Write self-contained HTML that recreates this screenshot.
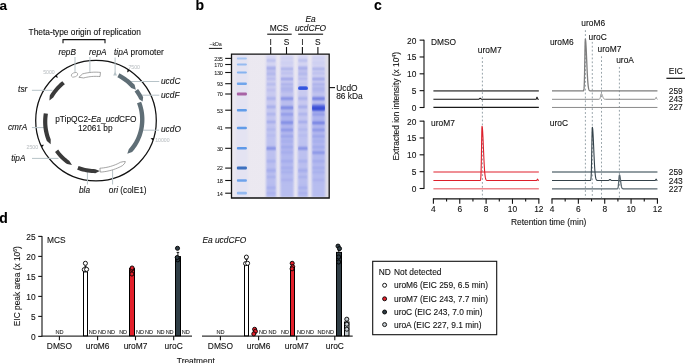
<!DOCTYPE html>
<html><head><meta charset="utf-8"><style>
html,body{margin:0;padding:0;background:#fff;}
body{width:685px;height:363px;overflow:hidden;}
svg{display:block;will-change:transform;font-family:"Liberation Sans",sans-serif;}
text{stroke:currentColor;stroke-width:0.1px;}
</style></head><body>
<svg width="685" height="363" viewBox="0 0 685 363" fill="#111" color="#111">
<text x="-0.50" y="9.60" font-size="13.5" font-weight="bold" fill="#000" color="#000">a</text>
<text x="195.60" y="9.60" font-size="14.0" font-weight="bold" fill="#000" color="#000">b</text>
<text x="374.00" y="9.70" font-size="14.0" font-weight="bold" fill="#000" color="#000">c</text>
<text x="-0.70" y="222.90" font-size="14.0" font-weight="bold" fill="#000" color="#000">d</text>
<circle cx="96" cy="120.6" r="60.3" fill="none" stroke="#111" stroke-width="1.25"/>
<line x1="75.00" y1="57.00" x2="75.00" y2="72.60" stroke="#b7c3c8" stroke-width="1"/>
<line x1="89.90" y1="57.00" x2="89.90" y2="72.80" stroke="#b7c3c8" stroke-width="1"/>
<line x1="115.10" y1="57.50" x2="115.10" y2="72.50" stroke="#b7c3c8" stroke-width="1"/>
<path d="M113.2,75.4 L117.0,75.4 L115.1,71.2Z" fill="#b7c3c8"/>
<line x1="130.50" y1="81.50" x2="159.30" y2="81.50" stroke="#b7c3c8" stroke-width="1"/>
<line x1="139.50" y1="95.20" x2="159.30" y2="95.20" stroke="#b7c3c8" stroke-width="1"/>
<line x1="143.30" y1="130.20" x2="159.10" y2="130.20" stroke="#b7c3c8" stroke-width="1"/>
<line x1="31.90" y1="90.30" x2="52.50" y2="90.30" stroke="#b7c3c8" stroke-width="1"/>
<line x1="31.90" y1="127.60" x2="44.00" y2="127.60" stroke="#b7c3c8" stroke-width="1"/>
<line x1="32.00" y1="158.40" x2="58.50" y2="158.40" stroke="#b7c3c8" stroke-width="1"/>
<line x1="87.40" y1="171.50" x2="87.40" y2="184.50" stroke="#b7c3c8" stroke-width="1"/>
<line x1="112.60" y1="170.00" x2="112.60" y2="184.50" stroke="#b7c3c8" stroke-width="1"/>
<path d="M62.35,81.13 L60.87,82.34 L59.43,83.61 L58.04,84.93 L56.69,86.30 L55.40,87.72 L54.16,89.19 L52.98,90.71 L51.85,92.27 L50.78,93.87 L49.77,95.51 L49.40,100.46 L53.26,97.47 L54.19,95.96 L55.18,94.48 L56.23,93.04 L57.32,91.65 L58.47,90.29 L59.66,88.98 L60.90,87.72 L62.19,86.50 L63.52,85.33 L64.89,84.22Z" fill="#3a3a3a" stroke="none" stroke-width="0" stroke-linejoin="round"/>
<path d="M43.78,113.24 L43.51,115.10 L43.31,116.97 L43.18,118.85 L43.11,120.74 L43.11,122.62 L43.18,124.51 L43.32,126.39 L43.53,128.27 L43.80,130.14 L44.14,131.99 L44.55,133.84 L45.03,135.67 L45.57,137.48 L46.18,139.28 L46.86,141.05 L50.65,144.34 L50.73,139.43 L50.12,137.81 L49.56,136.16 L49.06,134.49 L48.62,132.81 L48.25,131.11 L47.94,129.40 L47.69,127.68 L47.50,125.96 L47.37,124.22 L47.31,122.49 L47.31,120.76 L47.37,119.03 L47.50,117.30 L47.69,115.58 L47.94,113.87Z" fill="#3a3a3a" stroke="none" stroke-width="0" stroke-linejoin="round"/>
<path d="M55.04,152.07 L56.16,153.59 L57.35,155.07 L58.58,156.51 L59.88,157.90 L61.22,159.25 L62.62,160.54 L64.07,161.79 L65.56,162.98 L67.10,164.12 L71.97,164.88 L69.28,160.76 L67.86,159.71 L66.49,158.60 L65.16,157.45 L63.88,156.25 L62.64,155.01 L61.45,153.72 L60.31,152.39 L59.23,151.03 L58.20,149.62Z" fill="#3a3a3a" stroke="none" stroke-width="0" stroke-linejoin="round"/>
<path d="M77.18,169.71 L78.92,170.34 L80.69,170.91 L82.47,171.41 L84.28,171.86 L86.10,172.23 L87.93,172.55 L89.77,172.79 L91.62,172.98 L93.48,173.09 L95.34,173.14 L99.82,170.98 L95.32,169.14 L93.60,169.09 L91.89,168.98 L90.18,168.82 L88.48,168.59 L86.79,168.30 L85.11,167.94 L83.45,167.53 L81.80,167.07 L80.17,166.54 L78.56,165.95Z" fill="#3a3a3a" stroke="none" stroke-width="0" stroke-linejoin="round"/>
<path d="M100.29,172.09 L102.21,171.94 L104.14,171.72 L106.05,171.43 L107.95,171.06 L109.85,170.62 L111.73,170.11 L113.59,169.53 L115.43,168.88 L117.25,168.16 L119.04,167.37 L120.80,166.51 L122.54,165.59 L124.81,163.16 L125.34,161.57 L123.69,161.57 L120.49,162.27 L118.88,163.12 L117.25,163.91 L115.59,164.63 L113.90,165.29 L112.20,165.89 L110.48,166.42 L108.74,166.88 L106.98,167.28 L105.22,167.61 L103.45,167.88 L101.67,168.08 L99.90,168.21Z" fill="#fff" stroke="#7e7e7e" stroke-width="0.7" stroke-linejoin="round"/>
<path d="M119.41,73.29 L121.11,74.19 L122.77,75.15 L124.40,76.18 L125.99,77.26 L127.54,78.40 L129.05,79.59 L130.51,80.83 L131.93,82.13 L133.31,83.48 L134.63,84.87 L135.85,89.84 L131.31,87.91 L130.09,86.63 L128.84,85.40 L127.54,84.21 L126.20,83.07 L124.81,81.98 L123.39,80.93 L121.94,79.94 L120.45,79.01 L118.92,78.12 L117.37,77.30Z" fill="#5f6e76" stroke="none" stroke-width="0" stroke-linejoin="round"/>
<path d="M138.08,88.97 L139.21,90.55 L140.29,92.17 L141.30,93.83 L142.26,95.52 L143.15,97.25 L142.62,101.41 L139.21,99.20 L138.39,97.61 L137.51,96.06 L136.58,94.54 L135.59,93.05 L134.55,91.60Z" fill="#5f6e76" stroke="none" stroke-width="0" stroke-linejoin="round"/>
<path d="M141.10,101.66 L141.71,103.32 L142.26,104.99 L142.74,106.68 L143.17,108.39 L143.54,110.11 L143.84,111.84 L144.09,113.57 L144.27,115.32 L144.39,117.06 L144.45,118.81 L144.44,120.55 L144.38,122.30 L144.25,124.04 L144.06,125.77 L143.81,127.49 L143.51,129.20 L143.14,130.89 L142.71,132.57 L142.22,134.23 L141.68,135.88 L141.07,137.50 L140.41,139.09 L139.70,140.66 L138.93,142.20 L138.11,143.72 L137.24,145.20 L136.31,146.65 L135.34,148.06 L134.32,149.43 L133.25,150.77 L132.13,152.07 L127.28,153.87 L128.76,149.24 L129.78,148.06 L130.75,146.85 L131.69,145.60 L132.58,144.32 L133.42,143.01 L134.22,141.66 L134.97,140.29 L135.67,138.89 L136.33,137.46 L136.93,136.01 L137.48,134.54 L137.98,133.04 L138.43,131.53 L138.83,130.00 L139.17,128.46 L139.45,126.91 L139.68,125.34 L139.86,123.76 L139.98,122.18 L140.04,120.59 L140.05,119.00 L140.00,117.41 L139.90,115.82 L139.74,114.23 L139.52,112.65 L139.25,111.07 L138.92,109.51 L138.53,107.95 L138.09,106.41 L137.59,104.88 L137.04,103.37Z" fill="#5f6e76" stroke="none" stroke-width="0" stroke-linejoin="round"/>
<path d="M100.47,72.40 L98.67,72.25 L96.86,72.16 L95.06,72.15 L93.25,72.20 L91.45,72.32 L89.66,72.50 L87.87,72.75 L86.10,73.06 L84.34,73.45 L82.59,73.89 L78.86,77.32 L83.67,77.95 L85.27,77.54 L86.87,77.19 L88.50,76.90 L90.13,76.67 L91.77,76.50 L93.41,76.40 L95.06,76.35 L96.71,76.36 L98.36,76.43 L100.01,76.57Z" fill="#fff" stroke="#7e7e7e" stroke-width="0.7" stroke-linejoin="round"/>
<ellipse cx="74.5" cy="74.8" rx="3.4" ry="2.1" transform="rotate(-22 74.5 74.8)" fill="#fff" stroke="#8a8a8a" stroke-width="0.6"/>
<path d="M129.84,70.68 L127.12,72.49 L127.66,69.26Z" fill="#111"/>
<path d="M152.95,140.47 L150.50,138.31 L153.75,138.00Z" fill="#111"/>
<path d="M40.80,144.91 L44.07,144.82 L41.90,147.26Z" fill="#111"/>
<path d="M56.78,74.78 L57.81,77.88 L54.84,76.51Z" fill="#111"/>
<text x="43.20" y="74.20" font-size="5.2" fill="#c3c7ca" color="#c3c7ca">5000</text>
<text x="128.40" y="69.30" font-size="5.2" fill="#c3c7ca" color="#c3c7ca">7500</text>
<text x="155.20" y="141.70" font-size="5.2" fill="#c3c7ca" color="#c3c7ca">10000</text>
<text x="26.50" y="148.80" font-size="5.2" fill="#c3c7ca" color="#c3c7ca">2500</text>
<text x="28.60" y="34.70" font-size="8.35">Theta-type origin of replication</text>
<path d="M63,43.2 L63,39.6 L105,39.6 L105,43.2" fill="none" stroke="#111" stroke-width="1.1"/>
<text x="58.40" y="55.10" font-size="8.3" font-style="italic">repB</text>
<text x="89.00" y="55.10" font-size="8.3" font-style="italic">repA</text>
<text x="114.00" y="54.60" font-size="8.3"><tspan font-style="italic">tipA</tspan> promoter</text>
<text x="161.00" y="84.00" font-size="8.3" font-style="italic">ucdC</text>
<text x="161.00" y="97.50" font-size="8.3" font-style="italic">ucdF</text>
<text x="161.00" y="132.30" font-size="8.3" font-style="italic">ucdO</text>
<text x="27.30" y="91.70" font-size="8.3" text-anchor="end" font-style="italic">tsr</text>
<text x="27.30" y="130.00" font-size="8.3" text-anchor="end" font-style="italic">cmrA</text>
<text x="25.50" y="160.90" font-size="8.3" text-anchor="end" font-style="italic">tipA</text>
<text x="79.00" y="192.90" font-size="8.3" font-style="italic">bla</text>
<text x="108.80" y="192.90" font-size="8.3"><tspan font-style="italic">ori</tspan> (colE1)</text>
<text x="95.90" y="122.00" font-size="8.3" text-anchor="middle">pTipQC2-<tspan font-style="italic">Ea</tspan>_<tspan font-style="italic">ucd</tspan>CFO</text>
<text x="95.30" y="130.50" font-size="8.3" text-anchor="middle">12061 bp</text>
<text x="279.10" y="30.50" font-size="8.4" text-anchor="middle">MCS</text>
<text x="310.50" y="21.80" font-size="8.4" text-anchor="middle" font-style="italic">Ea</text>
<text x="310.50" y="30.50" font-size="8.4" text-anchor="middle" font-style="italic">ucdCFO</text>
<line x1="267.20" y1="34.20" x2="291.70" y2="34.20" stroke="#111" stroke-width="1.1"/>
<line x1="298.20" y1="34.20" x2="323.10" y2="34.20" stroke="#111" stroke-width="1.1"/>
<text x="270.70" y="44.80" font-size="8.4" text-anchor="middle">I</text>
<line x1="270.70" y1="47.00" x2="270.70" y2="54.50" stroke="#111" stroke-width="1.1"/>
<text x="286.50" y="44.80" font-size="8.4" text-anchor="middle">S</text>
<line x1="286.50" y1="47.00" x2="286.50" y2="54.50" stroke="#111" stroke-width="1.1"/>
<text x="302.40" y="44.80" font-size="8.4" text-anchor="middle">I</text>
<line x1="302.40" y1="47.00" x2="302.40" y2="54.50" stroke="#111" stroke-width="1.1"/>
<text x="317.90" y="44.80" font-size="8.4" text-anchor="middle">S</text>
<line x1="317.90" y1="47.00" x2="317.90" y2="54.50" stroke="#111" stroke-width="1.1"/>
<text x="215.60" y="45.60" font-size="5.4" text-anchor="middle" letter-spacing="-0.1" style="stroke-width:0">−kDa</text>
<line x1="208.90" y1="48.40" x2="222.10" y2="48.40" stroke="#111" stroke-width="1.0"/>
<defs><filter id="gb" x="-20%" y="-20%" width="140%" height="140%"><feGaussianBlur stdDeviation="0.75 0.95"/></filter><filter id="gl" x="-20%" y="-5%" width="140%" height="110%"><feGaussianBlur stdDeviation="0.9 0.6"/></filter><filter id="gm" x="-30%" y="-50%" width="160%" height="200%"><feGaussianBlur stdDeviation="0.5 0.55"/></filter><linearGradient id="lanegI" x1="0" x2="0" y1="0" y2="1"><stop offset="0" stop-color="#d8d8f3"/><stop offset="0.25" stop-color="#c9caf0"/><stop offset="0.6" stop-color="#bec2f0"/><stop offset="1" stop-color="#b6bcef"/></linearGradient><linearGradient id="lanegS" x1="0" x2="0" y1="0" y2="1"><stop offset="0" stop-color="#d8d8f3"/><stop offset="0.25" stop-color="#c2c4ef"/><stop offset="0.45" stop-color="#aeb4ee"/><stop offset="0.7" stop-color="#b2b8ef"/><stop offset="1" stop-color="#b8beef"/></linearGradient><linearGradient id="gelbg" x1="0" x2="1" y1="0" y2="0"><stop offset="0" stop-color="#ebe8f0"/><stop offset="0.85" stop-color="#ece9f1"/><stop offset="1" stop-color="#dedce4"/></linearGradient></defs>
<rect x="231.5" y="54" width="97.7" height="144" fill="url(#gelbg)"/>
<rect x="235.6" y="55" width="12.4" height="142" fill="#e4e3f2" filter="url(#gl)"/>
<g filter="url(#gm)">
<rect x="236.9" y="57.40" width="10.0" height="2.00" rx="1.0" fill="#9cc0f2" opacity="0.85"/>
<rect x="236.9" y="63.40" width="10.0" height="2.20" rx="1.0" fill="#88b4f0" opacity="0.85"/>
<rect x="236.9" y="71.40" width="10.0" height="2.20" rx="1.0" fill="#76aaee" opacity="0.85"/>
<rect x="236.9" y="82.50" width="10.0" height="2.40" rx="1.0" fill="#5c9aea" opacity="0.85"/>
<rect x="236.9" y="92.60" width="10.0" height="2.80" rx="1.0" fill="#9c4c98" opacity="0.85"/>
<rect x="236.9" y="109.00" width="10.0" height="2.40" rx="1.0" fill="#4a90e8" opacity="0.85"/>
<rect x="236.9" y="126.65" width="10.0" height="2.50" rx="1.0" fill="#4a8ee6" opacity="0.85"/>
<rect x="236.9" y="147.00" width="10.0" height="2.60" rx="1.0" fill="#488ce6" opacity="0.85"/>
<rect x="236.9" y="166.60" width="10.0" height="3.00" rx="1.0" fill="#1f5cb6" opacity="0.85"/>
<rect x="236.9" y="179.25" width="10.0" height="2.50" rx="1.0" fill="#5a98ea" opacity="0.85"/>
<rect x="236.9" y="191.85" width="10.0" height="2.70" rx="1.0" fill="#86b2ee" opacity="0.85"/>
</g>
<line x1="225.20" y1="58.40" x2="231.50" y2="58.40" stroke="#111" stroke-width="1.1"/>
<text x="222.70" y="60.70" font-size="5.5" text-anchor="end" letter-spacing="-0.22" style="stroke-width:0.05px">235</text>
<line x1="225.20" y1="64.50" x2="231.50" y2="64.50" stroke="#111" stroke-width="1.1"/>
<text x="222.70" y="66.80" font-size="5.5" text-anchor="end" letter-spacing="-0.22" style="stroke-width:0.05px">170</text>
<line x1="225.20" y1="72.50" x2="231.50" y2="72.50" stroke="#111" stroke-width="1.1"/>
<text x="222.70" y="74.80" font-size="5.5" text-anchor="end" letter-spacing="-0.22" style="stroke-width:0.05px">130</text>
<line x1="225.20" y1="83.70" x2="231.50" y2="83.70" stroke="#111" stroke-width="1.1"/>
<text x="222.70" y="86.00" font-size="5.5" text-anchor="end" letter-spacing="-0.22" style="stroke-width:0.05px">93</text>
<line x1="225.20" y1="94.00" x2="231.50" y2="94.00" stroke="#111" stroke-width="1.1"/>
<text x="222.70" y="96.30" font-size="5.5" text-anchor="end" letter-spacing="-0.22" style="stroke-width:0.05px">70</text>
<line x1="225.20" y1="110.20" x2="231.50" y2="110.20" stroke="#111" stroke-width="1.1"/>
<text x="222.70" y="112.50" font-size="5.5" text-anchor="end" letter-spacing="-0.22" style="stroke-width:0.05px">53</text>
<line x1="225.20" y1="127.90" x2="231.50" y2="127.90" stroke="#111" stroke-width="1.1"/>
<text x="222.70" y="130.20" font-size="5.5" text-anchor="end" letter-spacing="-0.22" style="stroke-width:0.05px">41</text>
<line x1="225.20" y1="148.30" x2="231.50" y2="148.30" stroke="#111" stroke-width="1.1"/>
<text x="222.70" y="150.60" font-size="5.5" text-anchor="end" letter-spacing="-0.22" style="stroke-width:0.05px">30</text>
<line x1="225.20" y1="168.10" x2="231.50" y2="168.10" stroke="#111" stroke-width="1.1"/>
<text x="222.70" y="170.40" font-size="5.5" text-anchor="end" letter-spacing="-0.22" style="stroke-width:0.05px">22</text>
<line x1="225.20" y1="180.50" x2="231.50" y2="180.50" stroke="#111" stroke-width="1.1"/>
<text x="222.70" y="182.80" font-size="5.5" text-anchor="end" letter-spacing="-0.22" style="stroke-width:0.05px">18</text>
<line x1="225.20" y1="193.20" x2="231.50" y2="193.20" stroke="#111" stroke-width="1.1"/>
<text x="222.70" y="195.50" font-size="5.5" text-anchor="end" letter-spacing="-0.22" style="stroke-width:0.05px">14</text>
<g filter="url(#gl)">
<rect x="266.0" y="55.3" width="10.3" height="141.5" fill="url(#lanegI)"/>
<rect x="280.2" y="55.3" width="13.6" height="141.5" fill="url(#lanegS)"/>
<rect x="297.6" y="55.3" width="10.4" height="141.5" fill="url(#lanegI)"/>
<rect x="311.7" y="55.3" width="13.6" height="141.5" fill="url(#lanegS)"/>
</g>
<g filter="url(#gb)">
<rect x="266.4" y="59.85" width="9.5" height="1.3" rx="1.2" fill="#6f7de0" opacity="0.45"/>
<rect x="266.4" y="66.75" width="9.5" height="1.7" rx="1.2" fill="#6f7de0" opacity="0.6"/>
<rect x="266.4" y="69.05" width="9.5" height="1.3" rx="1.2" fill="#6f7de0" opacity="0.45"/>
<rect x="266.4" y="71.90" width="9.5" height="1.4" rx="1.2" fill="#6f7de0" opacity="0.5"/>
<rect x="266.4" y="74.20" width="9.5" height="1.4" rx="1.2" fill="#6f7de0" opacity="0.5"/>
<rect x="266.4" y="78.00" width="9.5" height="1.6" rx="1.2" fill="#6f7de0" opacity="0.4"/>
<rect x="266.4" y="83.50" width="9.5" height="1.4" rx="1.2" fill="#6f7de0" opacity="0.4"/>
<rect x="266.4" y="89.30" width="9.5" height="1.4" rx="1.2" fill="#6f7de0" opacity="0.25"/>
<rect x="266.4" y="97.40" width="9.5" height="2.0" rx="1.2" fill="#6f7de0" opacity="0.45"/>
<rect x="266.4" y="105.95" width="9.5" height="1.7" rx="1.2" fill="#6f7de0" opacity="0.55"/>
<rect x="266.4" y="113.50" width="9.5" height="1.6" rx="1.2" fill="#6f7de0" opacity="0.45"/>
<rect x="266.4" y="121.10" width="9.5" height="1.8" rx="1.2" fill="#6f7de0" opacity="0.45"/>
<rect x="266.4" y="128.40" width="9.5" height="2.0" rx="1.2" fill="#6f7de0" opacity="0.25"/>
<rect x="266.4" y="134.85" width="9.5" height="1.5" rx="1.2" fill="#6f7de0" opacity="0.2"/>
<rect x="266.4" y="147.20" width="9.5" height="2.4" rx="1.2" fill="#5566dc" opacity="0.7"/>
<rect x="266.4" y="160.30" width="9.5" height="2.0" rx="1.2" fill="#6f7de0" opacity="0.3"/>
<rect x="266.4" y="169.10" width="9.5" height="3.0" rx="1.2" fill="#6f7de0" opacity="0.3"/>
<rect x="266.4" y="176.20" width="9.5" height="1.6" rx="1.2" fill="#6f7de0" opacity="0.35"/>
<rect x="266.4" y="186.70" width="9.5" height="2.0" rx="1.2" fill="#6f7de0" opacity="0.3"/>
<rect x="266.4" y="192.30" width="9.5" height="2.0" rx="1.2" fill="#6f7de0" opacity="0.25"/>
<rect x="280.6" y="57.70" width="12.8" height="1.0" rx="1.2" fill="#6f7de0" opacity="0.15"/>
<rect x="280.6" y="61.90" width="12.8" height="1.0" rx="1.2" fill="#6f7de0" opacity="0.15"/>
<rect x="280.6" y="68.10" width="12.8" height="1.6" rx="1.2" fill="#6f7de0" opacity="0.5"/>
<rect x="280.6" y="72.60" width="12.8" height="1.4" rx="1.2" fill="#6f7de0" opacity="0.3"/>
<rect x="280.6" y="77.90" width="12.8" height="2.2" rx="1.2" fill="#6f7de0" opacity="0.6"/>
<rect x="280.6" y="83.60" width="12.8" height="1.6" rx="1.2" fill="#6f7de0" opacity="0.45"/>
<rect x="280.6" y="87.60" width="12.8" height="1.6" rx="1.2" fill="#6f7de0" opacity="0.4"/>
<rect x="280.6" y="90.30" width="12.8" height="1.4" rx="1.2" fill="#6f7de0" opacity="0.3"/>
<rect x="280.6" y="97.40" width="12.8" height="2.4" rx="1.2" fill="#5566dc" opacity="0.65"/>
<rect x="280.6" y="106.50" width="12.8" height="2.6" rx="1.2" fill="#5566dc" opacity="0.7"/>
<rect x="280.6" y="113.40" width="12.8" height="1.8" rx="1.2" fill="#5566dc" opacity="0.55"/>
<rect x="280.6" y="121.50" width="12.8" height="2.2" rx="1.2" fill="#5566dc" opacity="0.65"/>
<rect x="280.6" y="129.10" width="12.8" height="2.0" rx="1.2" fill="#5566dc" opacity="0.5"/>
<rect x="280.6" y="135.50" width="12.8" height="1.8" rx="1.2" fill="#6f7de0" opacity="0.45"/>
<rect x="280.6" y="140.70" width="12.8" height="1.4" rx="1.2" fill="#6f7de0" opacity="0.3"/>
<rect x="280.6" y="146.20" width="12.8" height="1.8" rx="1.2" fill="#6f7de0" opacity="0.35"/>
<rect x="280.6" y="151.60" width="12.8" height="1.6" rx="1.2" fill="#6f7de0" opacity="0.3"/>
<rect x="280.6" y="160.30" width="12.8" height="2.0" rx="1.2" fill="#6f7de0" opacity="0.3"/>
<rect x="280.6" y="167.10" width="12.8" height="1.6" rx="1.2" fill="#6f7de0" opacity="0.3"/>
<rect x="280.6" y="171.50" width="12.8" height="1.6" rx="1.2" fill="#6f7de0" opacity="0.3"/>
<rect x="280.6" y="179.20" width="12.8" height="1.6" rx="1.2" fill="#6f7de0" opacity="0.25"/>
<rect x="298.0" y="59.85" width="9.6" height="1.3" rx="1.2" fill="#6f7de0" opacity="0.45"/>
<rect x="298.0" y="66.75" width="9.6" height="1.7" rx="1.2" fill="#6f7de0" opacity="0.6"/>
<rect x="298.0" y="69.05" width="9.6" height="1.3" rx="1.2" fill="#6f7de0" opacity="0.45"/>
<rect x="298.0" y="71.90" width="9.6" height="1.4" rx="1.2" fill="#6f7de0" opacity="0.5"/>
<rect x="298.0" y="74.20" width="9.6" height="1.4" rx="1.2" fill="#6f7de0" opacity="0.5"/>
<rect x="298.0" y="78.00" width="9.6" height="1.6" rx="1.2" fill="#6f7de0" opacity="0.4"/>
<rect x="298.0" y="97.40" width="9.6" height="2.0" rx="1.2" fill="#6f7de0" opacity="0.45"/>
<rect x="298.0" y="105.95" width="9.6" height="1.7" rx="1.2" fill="#6f7de0" opacity="0.55"/>
<rect x="298.0" y="113.50" width="9.6" height="1.6" rx="1.2" fill="#6f7de0" opacity="0.45"/>
<rect x="298.0" y="121.10" width="9.6" height="1.8" rx="1.2" fill="#6f7de0" opacity="0.45"/>
<rect x="298.0" y="128.40" width="9.6" height="2.0" rx="1.2" fill="#6f7de0" opacity="0.25"/>
<rect x="298.0" y="134.85" width="9.6" height="1.5" rx="1.2" fill="#6f7de0" opacity="0.2"/>
<rect x="298.0" y="147.20" width="9.6" height="2.4" rx="1.2" fill="#5566dc" opacity="0.7"/>
<rect x="298.0" y="160.30" width="9.6" height="2.0" rx="1.2" fill="#6f7de0" opacity="0.3"/>
<rect x="298.0" y="169.10" width="9.6" height="3.0" rx="1.2" fill="#6f7de0" opacity="0.3"/>
<rect x="298.0" y="176.20" width="9.6" height="1.6" rx="1.2" fill="#6f7de0" opacity="0.35"/>
<rect x="298.0" y="186.70" width="9.6" height="2.0" rx="1.2" fill="#6f7de0" opacity="0.3"/>
<rect x="298.0" y="192.30" width="9.6" height="2.0" rx="1.2" fill="#6f7de0" opacity="0.25"/>
<rect x="298.0" y="83.40" width="9.6" height="1.2" rx="1.2" fill="#6f7de0" opacity="0.3"/>
<rect x="312.1" y="57.70" width="12.8" height="1.0" rx="1.2" fill="#6f7de0" opacity="0.15"/>
<rect x="312.1" y="61.90" width="12.8" height="1.0" rx="1.2" fill="#6f7de0" opacity="0.15"/>
<rect x="312.1" y="68.10" width="12.8" height="1.6" rx="1.2" fill="#6f7de0" opacity="0.5"/>
<rect x="312.1" y="72.60" width="12.8" height="1.4" rx="1.2" fill="#6f7de0" opacity="0.3"/>
<rect x="312.1" y="77.90" width="12.8" height="2.2" rx="1.2" fill="#6f7de0" opacity="0.6"/>
<rect x="312.1" y="83.60" width="12.8" height="1.6" rx="1.2" fill="#6f7de0" opacity="0.45"/>
<rect x="312.1" y="87.60" width="12.8" height="1.6" rx="1.2" fill="#6f7de0" opacity="0.4"/>
<rect x="312.1" y="90.30" width="12.8" height="1.4" rx="1.2" fill="#6f7de0" opacity="0.3"/>
<rect x="312.1" y="113.40" width="12.8" height="1.8" rx="1.2" fill="#5566dc" opacity="0.55"/>
<rect x="312.1" y="129.10" width="12.8" height="2.0" rx="1.2" fill="#5566dc" opacity="0.5"/>
<rect x="312.1" y="135.50" width="12.8" height="1.8" rx="1.2" fill="#6f7de0" opacity="0.45"/>
<rect x="312.1" y="140.70" width="12.8" height="1.4" rx="1.2" fill="#6f7de0" opacity="0.3"/>
<rect x="312.1" y="146.20" width="12.8" height="1.8" rx="1.2" fill="#6f7de0" opacity="0.35"/>
<rect x="312.1" y="160.30" width="12.8" height="2.0" rx="1.2" fill="#6f7de0" opacity="0.3"/>
<rect x="312.1" y="167.10" width="12.8" height="1.6" rx="1.2" fill="#6f7de0" opacity="0.3"/>
<rect x="312.1" y="171.50" width="12.8" height="1.6" rx="1.2" fill="#6f7de0" opacity="0.3"/>
<rect x="312.1" y="179.20" width="12.8" height="1.6" rx="1.2" fill="#6f7de0" opacity="0.25"/>
<rect x="312.1" y="97.30" width="12.8" height="2.6" rx="1.2" fill="#5566dc" opacity="0.8"/>
<rect x="312.1" y="105.00" width="12.8" height="6.0" rx="1.2" fill="#3a50da" opacity="0.85"/>
<rect x="312.1" y="107.10" width="12.8" height="3.0" rx="1.2" fill="#2a40d0" opacity="0.65"/>
<rect x="312.1" y="104.60" width="12.8" height="2.0" rx="1.2" fill="#5566dc" opacity="0.6"/>
<rect x="312.1" y="121.80" width="12.8" height="2.2" rx="1.2" fill="#5566dc" opacity="0.8"/>
<rect x="312.1" y="151.70" width="12.8" height="1.8" rx="1.2" fill="#5566dc" opacity="0.65"/>
</g>
<g filter="url(#gm)"><rect x="298.0" y="86.3" width="10.0" height="3.8" rx="1.9" fill="#4664e2"/><rect x="299.0" y="87.2" width="8.0" height="2.0" rx="1.0" fill="#3252de"/></g>
<path d="M231.5,54.1 L329.2,54.1 L329.2,198 L231.5,198 Z" fill="none" stroke="#111" stroke-width="1.3"/>
<line x1="329.20" y1="87.60" x2="335.00" y2="87.60" stroke="#111" stroke-width="1.1"/>
<text x="336.20" y="90.70" font-size="8.4">UcdO</text>
<text x="336.20" y="99.30" font-size="8.4">86 kDa</text>
<line x1="424.00" y1="39.64" x2="424.00" y2="108.00" stroke="#111" stroke-width="1.1"/>
<line x1="419.60" y1="107.50" x2="424.00" y2="107.50" stroke="#111" stroke-width="1.1"/>
<text x="416.40" y="111.00" font-size="8.4" text-anchor="end">0</text>
<line x1="419.60" y1="90.66" x2="424.00" y2="90.66" stroke="#111" stroke-width="1.1"/>
<text x="416.40" y="94.16" font-size="8.4" text-anchor="end">5</text>
<line x1="419.60" y1="73.82" x2="424.00" y2="73.82" stroke="#111" stroke-width="1.1"/>
<text x="416.40" y="77.32" font-size="8.4" text-anchor="end">10</text>
<line x1="419.60" y1="56.98" x2="424.00" y2="56.98" stroke="#111" stroke-width="1.1"/>
<text x="416.40" y="60.48" font-size="8.4" text-anchor="end">15</text>
<line x1="419.60" y1="40.14" x2="424.00" y2="40.14" stroke="#111" stroke-width="1.1"/>
<text x="416.40" y="43.64" font-size="8.4" text-anchor="end">20</text>
<line x1="424.00" y1="120.64" x2="424.00" y2="189.00" stroke="#111" stroke-width="1.1"/>
<line x1="419.60" y1="188.50" x2="424.00" y2="188.50" stroke="#111" stroke-width="1.1"/>
<text x="416.40" y="192.00" font-size="8.4" text-anchor="end">0</text>
<line x1="419.60" y1="171.66" x2="424.00" y2="171.66" stroke="#111" stroke-width="1.1"/>
<text x="416.40" y="175.16" font-size="8.4" text-anchor="end">5</text>
<line x1="419.60" y1="154.82" x2="424.00" y2="154.82" stroke="#111" stroke-width="1.1"/>
<text x="416.40" y="158.32" font-size="8.4" text-anchor="end">10</text>
<line x1="419.60" y1="137.98" x2="424.00" y2="137.98" stroke="#111" stroke-width="1.1"/>
<text x="416.40" y="141.48" font-size="8.4" text-anchor="end">15</text>
<line x1="419.60" y1="121.14" x2="424.00" y2="121.14" stroke="#111" stroke-width="1.1"/>
<text x="416.40" y="124.64" font-size="8.4" text-anchor="end">20</text>
<text transform="translate(399.4,106.3) rotate(-90)" text-anchor="middle" font-size="8.4">Extracted ion intensity (x 10<tspan font-size="5" dy="-3">4</tspan><tspan dy="3">)</tspan></text>
<line x1="432.90" y1="198.80" x2="539.34" y2="198.80" stroke="#111" stroke-width="1.2"/>
<line x1="433.40" y1="198.80" x2="433.40" y2="203.80" stroke="#111" stroke-width="1.1"/>
<text x="433.40" y="212.00" font-size="8.4" text-anchor="middle">4</text>
<line x1="446.58" y1="198.80" x2="446.58" y2="201.40" stroke="#111" stroke-width="1.1"/>
<line x1="459.76" y1="198.80" x2="459.76" y2="203.80" stroke="#111" stroke-width="1.1"/>
<text x="459.76" y="212.00" font-size="8.4" text-anchor="middle">6</text>
<line x1="472.94" y1="198.80" x2="472.94" y2="201.40" stroke="#111" stroke-width="1.1"/>
<line x1="486.12" y1="198.80" x2="486.12" y2="203.80" stroke="#111" stroke-width="1.1"/>
<text x="486.12" y="212.00" font-size="8.4" text-anchor="middle">8</text>
<line x1="499.30" y1="198.80" x2="499.30" y2="201.40" stroke="#111" stroke-width="1.1"/>
<line x1="512.48" y1="198.80" x2="512.48" y2="203.80" stroke="#111" stroke-width="1.1"/>
<text x="512.48" y="212.00" font-size="8.4" text-anchor="middle">10</text>
<line x1="525.66" y1="198.80" x2="525.66" y2="201.40" stroke="#111" stroke-width="1.1"/>
<line x1="538.84" y1="198.80" x2="538.84" y2="203.80" stroke="#111" stroke-width="1.1"/>
<text x="538.84" y="212.00" font-size="8.4" text-anchor="middle">12</text>
<line x1="551.50" y1="198.80" x2="657.94" y2="198.80" stroke="#111" stroke-width="1.2"/>
<line x1="552.00" y1="198.80" x2="552.00" y2="203.80" stroke="#111" stroke-width="1.1"/>
<text x="552.00" y="212.00" font-size="8.4" text-anchor="middle">4</text>
<line x1="565.18" y1="198.80" x2="565.18" y2="201.40" stroke="#111" stroke-width="1.1"/>
<line x1="578.36" y1="198.80" x2="578.36" y2="203.80" stroke="#111" stroke-width="1.1"/>
<text x="578.36" y="212.00" font-size="8.4" text-anchor="middle">6</text>
<line x1="591.54" y1="198.80" x2="591.54" y2="201.40" stroke="#111" stroke-width="1.1"/>
<line x1="604.72" y1="198.80" x2="604.72" y2="203.80" stroke="#111" stroke-width="1.1"/>
<text x="604.72" y="212.00" font-size="8.4" text-anchor="middle">8</text>
<line x1="617.90" y1="198.80" x2="617.90" y2="201.40" stroke="#111" stroke-width="1.1"/>
<line x1="631.08" y1="198.80" x2="631.08" y2="203.80" stroke="#111" stroke-width="1.1"/>
<text x="631.08" y="212.00" font-size="8.4" text-anchor="middle">10</text>
<line x1="644.26" y1="198.80" x2="644.26" y2="201.40" stroke="#111" stroke-width="1.1"/>
<line x1="657.44" y1="198.80" x2="657.44" y2="203.80" stroke="#111" stroke-width="1.1"/>
<text x="657.44" y="212.00" font-size="8.4" text-anchor="middle">12</text>
<text x="548.70" y="224.70" font-size="8.4" text-anchor="middle">Retention time (min)</text>
<line x1="482.40" y1="57.20" x2="482.40" y2="198.20" stroke="#8a979e" stroke-width="0.9" stroke-dasharray="1.8 2.1"/>
<line x1="585.40" y1="30.20" x2="585.40" y2="198.20" stroke="#8a979e" stroke-width="0.9" stroke-dasharray="1.8 2.1"/>
<line x1="592.30" y1="41.90" x2="592.30" y2="198.20" stroke="#8a979e" stroke-width="0.9" stroke-dasharray="1.8 2.1"/>
<line x1="601.50" y1="56.30" x2="601.50" y2="198.20" stroke="#8a979e" stroke-width="0.9" stroke-dasharray="1.8 2.1"/>
<line x1="619.40" y1="67.00" x2="619.40" y2="198.20" stroke="#8a979e" stroke-width="0.9" stroke-dasharray="1.8 2.1"/>
<text x="431.00" y="44.70" font-size="8.4">DMSO</text>
<text x="477.80" y="52.50" font-size="8.4">uroM7</text>
<text x="431.10" y="126.20" font-size="8.4">uroM7</text>
<text x="549.90" y="44.90" font-size="8.4">uroM6</text>
<text x="549.80" y="125.90" font-size="8.4">uroC</text>
<text x="581.30" y="26.20" font-size="8.4">uroM6</text>
<text x="588.60" y="40.10" font-size="8.4">uroC</text>
<text x="597.60" y="52.10" font-size="8.4">uroM7</text>
<text x="616.20" y="62.50" font-size="8.4">uroA</text>
<text x="668.80" y="74.40" font-size="8.4">EIC</text>
<line x1="666.40" y1="78.30" x2="685.00" y2="78.30" stroke="#111" stroke-width="1.2"/>
<text x="668.80" y="93.90" font-size="8.4">259</text>
<text x="668.80" y="102.30" font-size="8.4">243</text>
<text x="668.80" y="110.45" font-size="8.4">227</text>
<text x="668.80" y="175.10" font-size="8.4">259</text>
<text x="668.80" y="183.50" font-size="8.4">243</text>
<text x="668.80" y="191.80" font-size="8.4">227</text>
<path d="M433.40,90.90 L538.84,90.90" fill="none" stroke="#6a6a6a" stroke-width="1.6" stroke-linejoin="round"/>
<path d="M433.40,99.30 L478.21,99.29 L478.34,99.28 L478.48,99.27 L478.61,99.24 L478.74,99.21 L478.87,99.16 L479.00,99.10 L479.13,99.02 L479.27,98.92 L479.40,98.81 L479.53,98.69 L479.66,98.57 L479.79,98.46 L479.93,98.37 L480.06,98.31 L480.19,98.29 L480.32,98.31 L480.45,98.37 L480.58,98.46 L480.72,98.57 L480.85,98.69 L480.98,98.81 L481.11,98.92 L481.24,99.02 L481.38,99.10 L481.51,99.16 L481.64,99.21 L481.77,99.24 L481.90,99.27 L482.03,99.28 L482.17,99.29 L535.68,99.29 L535.81,99.28 L535.94,99.24 L536.07,99.17 L536.20,99.03 L536.34,98.80 L536.47,98.47 L536.60,98.07 L536.73,97.68 L536.86,97.39 L536.99,97.28 L537.13,97.39 L537.26,97.68 L537.39,98.07 L537.52,98.47 L537.65,98.80 L537.79,99.03 L537.92,99.17 L538.05,99.24 L538.18,99.28 L538.31,99.29 L538.84,99.30" fill="none" stroke="#111" stroke-width="1.1" stroke-linejoin="round"/>
<path d="M433.40,107.45 L538.84,107.45" fill="none" stroke="#1a1a1a" stroke-width="1.3" stroke-linejoin="round"/>
<path d="M552.00,90.90 L583.10,90.89 L583.24,90.88 L583.37,90.85 L583.50,90.79 L583.63,90.64 L583.76,90.33 L583.90,89.73 L584.03,88.64 L584.16,86.80 L584.29,83.93 L584.42,79.76 L584.55,74.17 L584.69,67.31 L584.82,59.65 L584.95,52.00 L585.08,45.42 L585.21,40.96 L585.35,39.37 L585.48,39.63 L585.61,40.39 L585.74,41.64 L585.87,43.33 L586.00,45.42 L586.14,47.86 L586.27,50.57 L586.40,53.48 L586.53,56.53 L586.66,59.65 L586.80,62.76 L586.93,65.82 L587.06,68.76 L587.19,71.56 L587.32,74.17 L587.45,76.57 L587.59,78.75 L587.72,80.70 L587.85,82.42 L587.98,83.93 L588.11,85.22 L588.25,86.32 L588.38,87.24 L588.51,88.01 L588.64,88.64 L588.77,89.15 L588.90,89.55 L589.04,89.88 L589.17,90.13 L589.30,90.33 L589.43,90.48 L589.56,90.59 L589.69,90.68 L589.83,90.74 L589.96,90.79 L590.09,90.82 L590.22,90.85 L590.35,90.86 L590.49,90.87 L590.62,90.88 L590.75,90.89 L657.44,90.90" fill="none" stroke="#7d7d7d" stroke-width="1.3" stroke-linejoin="round"/>
<path d="M552.00,99.30 L598.92,99.29 L599.05,99.28 L599.18,99.27 L599.32,99.24 L599.45,99.19 L599.58,99.11 L599.71,98.98 L599.84,98.79 L599.98,98.53 L600.11,98.17 L600.24,97.71 L600.37,97.15 L600.50,96.51 L600.63,95.83 L600.77,95.14 L600.90,94.52 L601.03,94.01 L601.16,93.69 L601.29,93.57 L601.42,93.61 L601.56,93.71 L601.69,93.88 L601.82,94.11 L601.95,94.39 L602.08,94.72 L602.22,95.07 L602.35,95.44 L602.48,95.83 L602.61,96.21 L602.74,96.59 L602.87,96.95 L603.01,97.28 L603.14,97.59 L603.27,97.87 L603.40,98.12 L603.53,98.34 L603.67,98.53 L603.80,98.68 L603.93,98.82 L604.06,98.92 L604.19,99.01 L604.32,99.08 L604.46,99.14 L604.59,99.18 L604.72,99.21 L604.85,99.24 L604.98,99.25 L605.12,99.27 L605.25,99.28 L605.38,99.28 L654.80,99.29 L654.94,99.28 L655.07,99.24 L655.20,99.17 L655.33,99.03 L655.46,98.80 L655.59,98.47 L655.73,98.07 L655.86,97.68 L655.99,97.39 L656.12,97.28 L656.25,97.39 L656.39,97.68 L656.52,98.07 L656.65,98.47 L656.78,98.80 L656.91,99.03 L657.04,99.17 L657.18,99.24 L657.31,99.28 L657.44,99.29" fill="none" stroke="#8a8a8a" stroke-width="1.0" stroke-linejoin="round"/>
<path d="M552.00,107.45 L657.44,107.45" fill="none" stroke="#8a8a8a" stroke-width="1.0" stroke-linejoin="round"/>
<path d="M433.40,172.10 L538.84,172.10" fill="none" stroke="#ea6a72" stroke-width="1.5" stroke-linejoin="round"/>
<path d="M433.40,180.50 L479.93,180.49 L480.06,180.48 L480.19,180.44 L480.32,180.34 L480.45,180.13 L480.58,179.68 L480.72,178.80 L480.85,177.22 L480.98,174.59 L481.11,170.56 L481.24,164.91 L481.38,157.68 L481.51,149.34 L481.64,140.79 L481.77,133.29 L481.90,128.12 L482.03,126.28 L482.17,126.52 L482.30,127.25 L482.43,128.44 L482.56,130.07 L482.69,132.09 L482.82,134.44 L482.96,137.08 L483.09,139.94 L483.22,142.95 L483.35,146.05 L483.48,149.18 L483.62,152.28 L483.75,155.30 L483.88,158.21 L484.01,160.95 L484.14,163.52 L484.27,165.88 L484.41,168.02 L484.54,169.95 L484.67,171.66 L484.80,173.16 L484.93,174.46 L485.07,175.58 L485.20,176.52 L485.33,177.31 L485.46,177.97 L485.59,178.51 L485.72,178.95 L485.86,179.30 L485.99,179.58 L486.12,179.81 L486.25,179.98 L486.38,180.11 L486.52,180.21 L486.65,180.29 L486.78,180.35 L486.91,180.39 L487.04,180.42 L487.17,180.45 L487.31,180.46 L487.44,180.47 L487.57,180.48 L487.70,180.49 L536.34,180.49 L536.47,180.46 L536.60,180.41 L536.73,180.32 L536.86,180.16 L536.99,179.95 L537.13,179.68 L537.26,179.42 L537.39,179.23 L537.52,179.15 L537.65,179.23 L537.79,179.42 L537.92,179.68 L538.05,179.95 L538.18,180.16 L538.31,180.32 L538.44,180.41 L538.58,180.46 L538.71,180.49 L538.84,180.49" fill="none" stroke="#dd1f2b" stroke-width="1.1" stroke-linejoin="round"/>
<path d="M433.40,188.80 L538.84,188.80" fill="none" stroke="#ee878d" stroke-width="1.4" stroke-linejoin="round"/>
<path d="M552.00,172.10 L657.44,172.10" fill="none" stroke="#6e7c83" stroke-width="1.5" stroke-linejoin="round"/>
<path d="M552.00,180.50 L590.09,180.49 L590.22,180.48 L590.35,180.45 L590.49,180.38 L590.62,180.23 L590.75,179.91 L590.88,179.29 L591.01,178.16 L591.14,176.27 L591.28,173.30 L591.41,168.99 L591.54,163.22 L591.67,156.14 L591.80,148.22 L591.94,140.33 L592.07,133.54 L592.20,128.92 L592.33,127.29 L592.46,127.53 L592.59,128.24 L592.73,129.41 L592.86,131.01 L592.99,132.99 L593.12,135.30 L593.25,137.89 L593.39,140.69 L593.52,143.65 L593.65,146.69 L593.78,149.76 L593.91,152.80 L594.04,155.77 L594.18,158.62 L594.31,161.32 L594.44,163.83 L594.57,166.15 L594.70,168.26 L594.84,170.15 L594.97,171.83 L595.10,173.30 L595.23,174.57 L595.36,175.67 L595.49,176.60 L595.63,177.37 L595.76,178.02 L595.89,178.55 L596.02,178.98 L596.15,179.33 L596.28,179.60 L596.42,179.82 L596.55,179.99 L596.68,180.12 L596.81,180.22 L596.94,180.29 L597.08,180.35 L597.21,180.39 L597.34,180.42 L597.47,180.45 L597.60,180.46 L597.73,180.47 L597.87,180.48 L598.00,180.49 L608.01,180.49 L608.15,180.48 L608.28,180.47 L608.41,180.44 L608.54,180.41 L608.67,180.36 L608.81,180.30 L608.94,180.22 L609.07,180.12 L609.20,180.01 L609.33,179.89 L609.46,179.77 L609.60,179.66 L609.73,179.57 L609.86,179.51 L609.99,179.49 L610.12,179.51 L610.26,179.57 L610.39,179.66 L610.52,179.77 L610.65,179.89 L610.78,180.01 L610.91,180.12 L611.05,180.22 L611.18,180.30 L611.31,180.36 L611.44,180.41 L611.57,180.44 L611.71,180.47 L611.84,180.48 L611.97,180.49 L654.94,180.49 L655.07,180.46 L655.20,180.41 L655.33,180.32 L655.46,180.16 L655.59,179.95 L655.73,179.68 L655.86,179.42 L655.99,179.23 L656.12,179.15 L656.25,179.23 L656.39,179.42 L656.52,179.68 L656.65,179.95 L656.78,180.16 L656.91,180.32 L657.04,180.41 L657.18,180.46 L657.31,180.49 L657.44,180.49" fill="none" stroke="#34424a" stroke-width="1.1" stroke-linejoin="round"/>
<path d="M552.00,188.80 L616.98,188.79 L617.11,188.78 L617.24,188.76 L617.37,188.72 L617.50,188.65 L617.64,188.53 L617.77,188.33 L617.90,188.02 L618.03,187.57 L618.16,186.93 L618.30,186.07 L618.43,184.96 L618.56,183.62 L618.69,182.08 L618.82,180.42 L618.95,178.77 L619.09,177.27 L619.22,176.05 L619.35,175.26 L619.48,174.99 L619.61,175.10 L619.75,175.42 L619.88,175.93 L620.01,176.61 L620.14,177.44 L620.27,178.38 L620.40,179.38 L620.54,180.42 L620.67,181.47 L620.80,182.48 L620.93,183.43 L621.06,184.32 L621.19,185.11 L621.33,185.81 L621.46,186.42 L621.59,186.93 L621.72,187.36 L621.85,187.70 L621.99,187.98 L622.12,188.19 L622.25,188.36 L622.38,188.49 L622.51,188.58 L622.64,188.65 L622.78,188.70 L622.91,188.73 L623.04,188.75 L623.17,188.77 L623.30,188.78 L623.44,188.79 L657.44,188.80" fill="none" stroke="#5a6870" stroke-width="1.3" stroke-linejoin="round"/>
<line x1="42.00" y1="235.90" x2="42.00" y2="336.90" stroke="#111" stroke-width="1.1"/>
<line x1="38.20" y1="336.40" x2="42.00" y2="336.40" stroke="#111" stroke-width="1.1"/>
<text x="35.60" y="339.80" font-size="8.4" text-anchor="end">0</text>
<line x1="38.20" y1="316.40" x2="42.00" y2="316.40" stroke="#111" stroke-width="1.1"/>
<text x="35.60" y="319.80" font-size="8.4" text-anchor="end">5</text>
<line x1="38.20" y1="296.40" x2="42.00" y2="296.40" stroke="#111" stroke-width="1.1"/>
<text x="35.60" y="299.80" font-size="8.4" text-anchor="end">10</text>
<line x1="38.20" y1="276.40" x2="42.00" y2="276.40" stroke="#111" stroke-width="1.1"/>
<text x="35.60" y="279.80" font-size="8.4" text-anchor="end">15</text>
<line x1="38.20" y1="256.40" x2="42.00" y2="256.40" stroke="#111" stroke-width="1.1"/>
<text x="35.60" y="259.80" font-size="8.4" text-anchor="end">20</text>
<line x1="38.20" y1="236.40" x2="42.00" y2="236.40" stroke="#111" stroke-width="1.1"/>
<text x="35.60" y="239.80" font-size="8.4" text-anchor="end">25</text>
<text transform="translate(20.0,286.2) rotate(-90)" text-anchor="middle" font-size="8.4">EIC peak area (x 10<tspan font-size="5" dy="-3">6</tspan><tspan dy="3">)</tspan></text>
<line x1="41.50" y1="336.10" x2="192.00" y2="336.10" stroke="#333" stroke-width="1.2"/>
<line x1="202.00" y1="336.10" x2="352.70" y2="336.10" stroke="#333" stroke-width="1.2"/>
<line x1="59.40" y1="336.10" x2="59.40" y2="340.20" stroke="#111" stroke-width="1.1"/>
<text x="59.40" y="349.10" font-size="8.4" text-anchor="middle">DMSO</text>
<line x1="97.60" y1="336.10" x2="97.60" y2="340.20" stroke="#111" stroke-width="1.1"/>
<text x="97.60" y="349.10" font-size="8.4" text-anchor="middle">uroM6</text>
<line x1="135.50" y1="336.10" x2="135.50" y2="340.20" stroke="#111" stroke-width="1.1"/>
<text x="135.50" y="349.10" font-size="8.4" text-anchor="middle">uroM7</text>
<line x1="173.70" y1="336.10" x2="173.70" y2="340.20" stroke="#111" stroke-width="1.1"/>
<text x="173.70" y="349.10" font-size="8.4" text-anchor="middle">uroC</text>
<line x1="220.40" y1="336.10" x2="220.40" y2="340.20" stroke="#111" stroke-width="1.1"/>
<text x="220.40" y="349.10" font-size="8.4" text-anchor="middle">DMSO</text>
<line x1="258.60" y1="336.10" x2="258.60" y2="340.20" stroke="#111" stroke-width="1.1"/>
<text x="258.60" y="349.10" font-size="8.4" text-anchor="middle">uroM6</text>
<line x1="296.70" y1="336.10" x2="296.70" y2="340.20" stroke="#111" stroke-width="1.1"/>
<text x="296.70" y="349.10" font-size="8.4" text-anchor="middle">uroM7</text>
<line x1="334.80" y1="336.10" x2="334.80" y2="340.20" stroke="#111" stroke-width="1.1"/>
<text x="334.80" y="349.10" font-size="8.4" text-anchor="middle">uroC</text>
<text x="47.00" y="242.70" font-size="8.4">MCS</text>
<text x="202.40" y="243.20" font-size="8.4" font-style="italic">Ea ucdCFO</text>
<text x="195.80" y="363.70" font-size="8.4" text-anchor="middle">Treatment</text>
<text x="59.40" y="333.80" font-size="5.6" text-anchor="middle" fill="#2a2a2a" color="#2a2a2a" letter-spacing="-0.1">ND</text>
<rect x="83.50" y="271.90" width="4" height="63.90" fill="#ffffff" stroke="#000" stroke-width="1.0"/>
<line x1="85.50" y1="266.20" x2="85.50" y2="271.90" stroke="#000" stroke-width="0.9"/>
<line x1="84.20" y1="266.20" x2="86.80" y2="266.20" stroke="#000" stroke-width="0.9"/>
<circle cx="85.40" cy="263.30" r="2.05" fill="#ffffff" stroke="#000" stroke-width="0.9"/>
<circle cx="84.30" cy="269.60" r="2.05" fill="#ffffff" stroke="#000" stroke-width="0.9"/>
<circle cx="86.60" cy="269.40" r="2.05" fill="#ffffff" stroke="#000" stroke-width="0.9"/>
<text x="92.70" y="333.80" font-size="5.6" text-anchor="middle" fill="#2a2a2a" color="#2a2a2a" letter-spacing="-0.1">ND</text>
<text x="101.90" y="333.80" font-size="5.6" text-anchor="middle" fill="#2a2a2a" color="#2a2a2a" letter-spacing="-0.1">ND</text>
<text x="111.10" y="333.80" font-size="5.6" text-anchor="middle" fill="#2a2a2a" color="#2a2a2a" letter-spacing="-0.1">ND</text>
<text x="123.10" y="333.80" font-size="5.6" text-anchor="middle" fill="#2a2a2a" color="#2a2a2a" letter-spacing="-0.1">ND</text>
<rect x="129.50" y="268.60" width="5" height="67.20" fill="#e3202b" stroke="#000" stroke-width="1.0"/>
<line x1="132.00" y1="267.60" x2="132.00" y2="268.60" stroke="#000" stroke-width="0.9"/>
<line x1="130.70" y1="267.60" x2="133.30" y2="267.60" stroke="#000" stroke-width="0.9"/>
<circle cx="131.60" cy="269.30" r="2.05" fill="#e3202b" stroke="#000" stroke-width="0.9"/>
<circle cx="131.90" cy="274.00" r="2.05" fill="#e3202b" stroke="#000" stroke-width="0.9"/>
<circle cx="132.10" cy="268.00" r="2.05" fill="#e3202b" stroke="#000" stroke-width="0.9"/>
<text x="140.00" y="333.80" font-size="5.6" text-anchor="middle" fill="#2a2a2a" color="#2a2a2a" letter-spacing="-0.1">ND</text>
<text x="149.00" y="333.80" font-size="5.6" text-anchor="middle" fill="#2a2a2a" color="#2a2a2a" letter-spacing="-0.1">ND</text>
<text x="160.60" y="333.80" font-size="5.6" text-anchor="middle" fill="#2a2a2a" color="#2a2a2a" letter-spacing="-0.1">ND</text>
<text x="169.60" y="333.80" font-size="5.6" text-anchor="middle" fill="#2a2a2a" color="#2a2a2a" letter-spacing="-0.1">ND</text>
<rect x="175.50" y="256.60" width="5" height="79.20" fill="#2f3d45" stroke="#000" stroke-width="1.0"/>
<line x1="177.90" y1="252.40" x2="177.90" y2="256.60" stroke="#000" stroke-width="0.9"/>
<line x1="176.60" y1="252.40" x2="179.20" y2="252.40" stroke="#000" stroke-width="0.9"/>
<circle cx="177.50" cy="248.30" r="2.05" fill="#2f3d45" stroke="#000" stroke-width="0.9"/>
<circle cx="177.80" cy="259.80" r="2.05" fill="#2f3d45" stroke="#000" stroke-width="0.9"/>
<circle cx="177.20" cy="257.50" r="2.05" fill="#2f3d45" stroke="#000" stroke-width="0.9"/>
<text x="185.80" y="333.80" font-size="5.6" text-anchor="middle" fill="#2a2a2a" color="#2a2a2a" letter-spacing="-0.1">ND</text>
<text x="220.40" y="333.80" font-size="5.6" text-anchor="middle" fill="#2a2a2a" color="#2a2a2a" letter-spacing="-0.1">ND</text>
<rect x="244.50" y="264.90" width="4" height="70.90" fill="#ffffff" stroke="#000" stroke-width="1.0"/>
<line x1="246.50" y1="259.20" x2="246.50" y2="264.90" stroke="#000" stroke-width="0.9"/>
<line x1="245.20" y1="259.20" x2="247.80" y2="259.20" stroke="#000" stroke-width="0.9"/>
<circle cx="246.40" cy="257.10" r="2.05" fill="#ffffff" stroke="#000" stroke-width="0.9"/>
<circle cx="245.60" cy="263.60" r="2.05" fill="#ffffff" stroke="#000" stroke-width="0.9"/>
<circle cx="247.60" cy="263.30" r="2.05" fill="#ffffff" stroke="#000" stroke-width="0.9"/>
<circle cx="254.60" cy="329.30" r="2.05" fill="#e3202b" stroke="#000" stroke-width="0.9"/>
<circle cx="255.40" cy="331.40" r="2.05" fill="#e3202b" stroke="#000" stroke-width="0.9"/>
<circle cx="253.80" cy="333.90" r="2.05" fill="#e3202b" stroke="#000" stroke-width="0.9"/>
<text x="262.90" y="333.80" font-size="5.6" text-anchor="middle" fill="#2a2a2a" color="#2a2a2a" letter-spacing="-0.1">ND</text>
<text x="272.40" y="333.80" font-size="5.6" text-anchor="middle" fill="#2a2a2a" color="#2a2a2a" letter-spacing="-0.1">ND</text>
<text x="284.90" y="333.80" font-size="5.6" text-anchor="middle" fill="#2a2a2a" color="#2a2a2a" letter-spacing="-0.1">ND</text>
<rect x="290.50" y="267.00" width="4" height="68.80" fill="#e3202b" stroke="#000" stroke-width="1.0"/>
<line x1="292.70" y1="265.00" x2="292.70" y2="267.00" stroke="#000" stroke-width="0.9"/>
<line x1="291.40" y1="265.00" x2="294.00" y2="265.00" stroke="#000" stroke-width="0.9"/>
<circle cx="292.20" cy="263.30" r="2.05" fill="#e3202b" stroke="#000" stroke-width="0.9"/>
<circle cx="292.70" cy="266.80" r="2.05" fill="#e3202b" stroke="#000" stroke-width="0.9"/>
<circle cx="292.10" cy="268.80" r="2.05" fill="#e3202b" stroke="#000" stroke-width="0.9"/>
<text x="300.90" y="333.80" font-size="5.6" text-anchor="middle" fill="#2a2a2a" color="#2a2a2a" letter-spacing="-0.1">ND</text>
<text x="309.90" y="333.80" font-size="5.6" text-anchor="middle" fill="#2a2a2a" color="#2a2a2a" letter-spacing="-0.1">ND</text>
<text x="321.40" y="333.80" font-size="5.6" text-anchor="middle" fill="#2a2a2a" color="#2a2a2a" letter-spacing="-0.1">ND</text>
<text x="330.00" y="333.80" font-size="5.6" text-anchor="middle" fill="#2a2a2a" color="#2a2a2a" letter-spacing="-0.1">ND</text>
<rect x="336.50" y="252.40" width="5" height="83.40" fill="#2f3d45" stroke="#000" stroke-width="1.0"/>
<line x1="338.80" y1="250.00" x2="338.80" y2="252.40" stroke="#000" stroke-width="0.9"/>
<line x1="337.50" y1="250.00" x2="340.10" y2="250.00" stroke="#000" stroke-width="0.9"/>
<circle cx="338.00" cy="246.10" r="2.05" fill="#2f3d45" stroke="#000" stroke-width="0.9"/>
<circle cx="339.50" cy="248.60" r="2.05" fill="#2f3d45" stroke="#000" stroke-width="0.9"/>
<circle cx="338.70" cy="257.00" r="2.05" fill="#2f3d45" stroke="#000" stroke-width="0.9"/>
<circle cx="338.70" cy="262.00" r="2.05" fill="#2f3d45" stroke="#000" stroke-width="0.9"/>
<rect x="344.50" y="322.00" width="4.5" height="13.80" fill="#c6cdd1" stroke="#000" stroke-width="1.0"/>
<line x1="346.80" y1="320.50" x2="346.80" y2="322.00" stroke="#000" stroke-width="0.9"/>
<line x1="345.50" y1="320.50" x2="348.10" y2="320.50" stroke="#000" stroke-width="0.9"/>
<circle cx="346.80" cy="319.20" r="2.05" fill="#c6cdd1" stroke="#000" stroke-width="0.9"/>
<circle cx="346.80" cy="324.20" r="2.05" fill="#c6cdd1" stroke="#000" stroke-width="0.9"/>
<circle cx="346.80" cy="329.20" r="2.05" fill="#c6cdd1" stroke="#000" stroke-width="0.9"/>
<rect x="372.7" y="261.3" width="124.0" height="73.4" fill="#fff" stroke="#111" stroke-width="1.1"/>
<text x="378.80" y="275.30" font-size="8.4">ND</text>
<text x="394.00" y="275.30" font-size="8.4">Not detected</text>
<circle cx="384.60" cy="285.30" r="2.0" fill="#ffffff" stroke="#000" stroke-width="0.9"/>
<text x="394.00" y="288.20" font-size="8.4">uroM6 (EIC 259, 6.5 min)</text>
<circle cx="384.60" cy="298.80" r="2.0" fill="#e3202b" stroke="#000" stroke-width="0.9"/>
<text x="394.00" y="301.70" font-size="8.4">uroM7 (EIC 243, 7.7 min)</text>
<circle cx="384.60" cy="312.00" r="2.0" fill="#2f3d45" stroke="#000" stroke-width="0.9"/>
<text x="394.00" y="314.90" font-size="8.4">uroC (EIC 243, 7.0 min)</text>
<circle cx="384.60" cy="324.60" r="2.0" fill="#c6cdd1" stroke="#000" stroke-width="0.9"/>
<text x="394.00" y="327.50" font-size="8.4">uroA (EIC 227, 9.1 min)</text>
</svg></body></html>
